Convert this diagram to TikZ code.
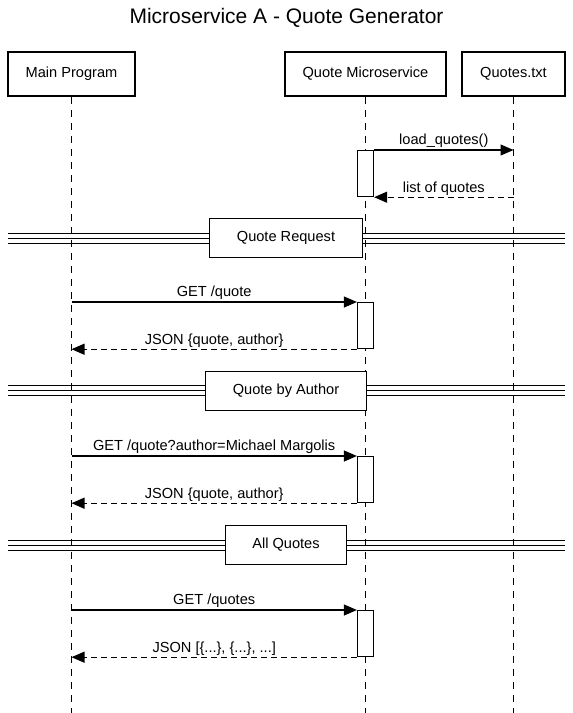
\documentclass[tikz,border=0pt]{standalone}
\usepackage{fontspec}
\setmainfont{Liberation Sans}
\usetikzlibrary{arrows.meta,positioning}

\begin{document}
\begin{tikzpicture}[
    x=1pt, y=-1pt,
    font=\fontsize{14.6}{17}\selectfont,
    actor/.style={draw, line width=1.8pt, minimum height=44pt, inner xsep=18pt},
    life/.style={line width=1pt, dash pattern=on 7pt off 6pt},
    actbox/.style={draw, line width=1.2pt, fill=white, minimum width=16pt, minimum height=46pt, inner sep=0pt, anchor=north},
    divbox/.style={draw, line width=1pt, fill=white, minimum height=39pt, inner xsep=27pt},
    divline/.style={line width=1pt},
    msg/.style={-{Triangle[length=13pt, width=11pt]}, line width=1.1pt},
    ret/.style={msg, dash pattern=on 6pt off 4pt},
    lbl/.style={above=1.5pt, midway, inner sep=0pt, text depth=3pt}
  ]
    \useasboundingbox (0,0) rectangle (573,713);

    \node[font=\fontsize{21}{25}\selectfont] (title) at (286.5,18) {Microservice A - Quote Generator};

    % participants
    \node[actor] (main) at (71.5,74) {Main Program};
    \node[actor] (qms) at (365.5,74) {Quote Microservice};
    \node[actor] (txt) at (513.5,74) {Quotes.txt};
    \coordinate (mainend) at (71.5,713);
    \coordinate (qmsend) at (365.5,713);
    \coordinate (txtend) at (513.5,713);
    \draw[life] (main.south) -- (mainend);
    \draw[life] (qms.south) -- (qmsend);
    \draw[life] (txt.south) -- (txtend);

    % dividers
    \foreach \y/\name/\txt in {238/div1/Quote Request, 390.5/div2/Quote by Author, 545/div3/All Quotes} {
      \draw[divline] (8,\y-5) -- (565,\y-5);
      \draw[divline] (8,\y) -- (565,\y);
      \draw[divline] (8,\y+5) -- (565,\y+5);
      \node[divbox] (\name) at (286,\y) {\txt};
    }

    % activations
    \node[actbox] (act1) at (365.5,150) {};
    \node[actbox] (act2) at (365.5,302) {};
    \node[actbox] (act3) at (365.5,456) {};
    \node[actbox] (act4) at (365.5,610) {};

    % messages
    \draw[msg] (act1.north east) -- node[lbl] {load\_quotes()} (txt |- act1.north);
    \draw[ret] (txt |- act1.south) -- node[lbl] {list of quotes} (act1.south east);

    \draw[msg] (main |- act2.north) -- node[lbl] {GET /quote} (act2.north west);
    \draw[ret] (act2.south west) -- node[lbl] {JSON \{quote, author\}} (main |- act2.south);

    \draw[msg] (main |- act3.north) -- node[lbl] {GET /quote?author=Michael Margolis} (act3.north west);
    \draw[ret] (act3.south west) -- node[lbl] {JSON \{quote, author\}} (main |- act3.south);

    \draw[msg] (main |- act4.north) -- node[lbl] {GET /quotes} (act4.north west);
    \draw[ret] (act4.south west) -- node[lbl] {JSON [\{...\}, \{...\}, ...]} (main |- act4.south);
  \end{tikzpicture}
\end{document}
